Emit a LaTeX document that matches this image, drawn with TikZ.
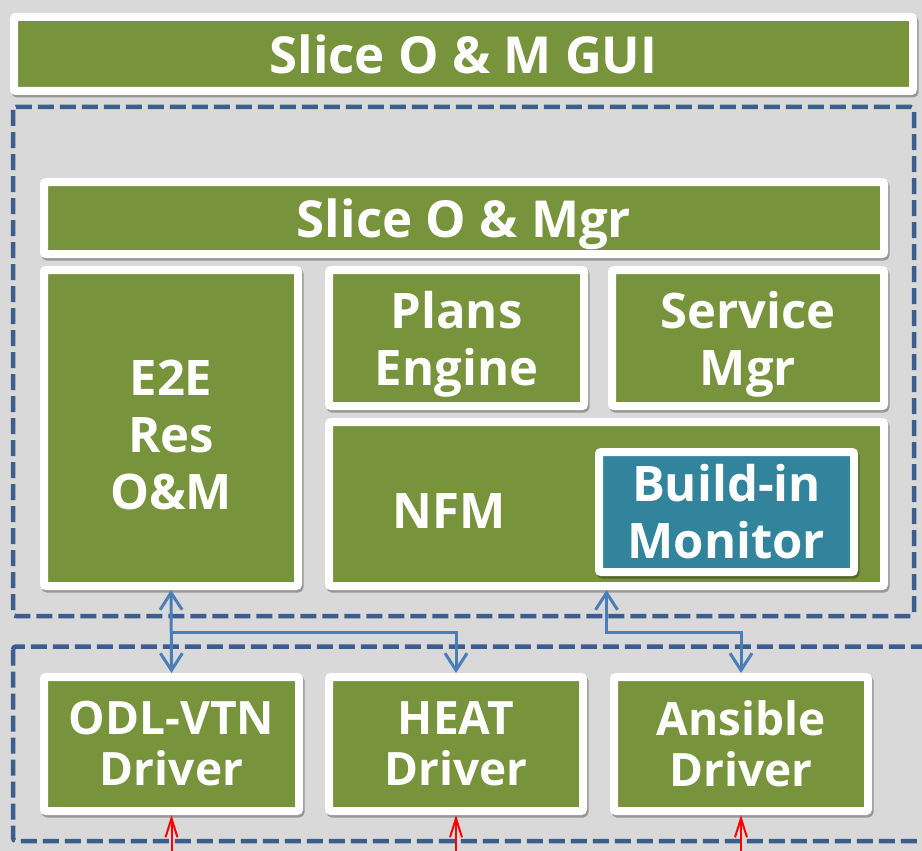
\documentclass[tikz,border=0pt]{standalone}
\usepackage{fontspec}
\setmainfont{Open Sans}
\usepackage{xcolor}
\usepackage{tikz}
\usetikzlibrary{positioning,shadows,arrows.meta}

\definecolor{olive}{HTML}{77933C}
\definecolor{teal}{HTML}{31849B}
\definecolor{canvas}{HTML}{D9D9D9}
\definecolor{frameblue}{HTML}{3B5E8C}
\definecolor{linkblue}{HTML}{4A7EBB}

\begin{document}
\begin{tikzpicture}[
    x=1pt, y=-1pt,
    blk/.style={draw=white, fill=olive, line width=8pt, rounded corners=2pt,
        text=white, align=center, inner sep=0pt,
        font=\bfseries\fontsize{49}{57}\selectfont,
        general shadow={shadow xshift=1.5pt, shadow yshift=-2.5pt,
            opacity=.3, fill=black, draw=black, line width=8pt}},
    wide/.style={blk, font=\bfseries\fontsize{51}{57}\selectfont},
    mon/.style={blk, fill=teal},
    drv/.style={blk, minimum width=254pt, minimum height=134pt,
        font=\bfseries\fontsize{46}{51}\selectfont},
    lbl/.style={text=white, inner sep=0pt, font=\bfseries\fontsize{49}{57}\selectfont},
    group/.style={draw=frameblue, line width=4.5pt, dash pattern=on 16pt off 6pt,
        rounded corners=3pt},
    link/.style={draw=linkblue, line width=3pt, >={Straight Barb[length=17pt,width=22pt]}},
    feed/.style={draw=red, line width=2pt, ->, >={Straight Barb[length=19pt,width=12pt]}},
]
    \fill[canvas] (0,0) rectangle (922,851);
    \useasboundingbox (0,0) rectangle (922,851);

    % Frames
    \draw[group] (13,107) rectangle (914,616);
    \draw[group] (13,646.5) rectangle (950,841);

    % GUI
    \node[wide, minimum width=899pt, minimum height=74pt] (gui) at (463.5,54) {Slice O \& M GUI};

    % Slice management
    \node[wide, minimum width=840pt, minimum height=72pt, text depth=0pt] (mgr) at (464,218) {Slice O \& Mgr};
    \node[blk, minimum width=254pt, minimum height=316pt] (e2e) at (171,428) {\rule{0pt}{50pt}E2E\\Res\\O\&M};
    \node[blk, minimum width=255pt, minimum height=136pt, text depth=0pt, right=23pt of e2e.north east, anchor=north west] (plans) {Plans\\Engine};
    \node[blk, minimum width=272pt, minimum height=136pt, text depth=0pt, right=20pt of plans] (svc) {Service\\Mgr};
    \node[blk, minimum width=555pt, minimum height=164pt, below=8pt of plans.south west, anchor=north west] (nfm) {};
    \node[lbl] (nfmlbl) at (449,511) {NFM};
    \node[mon, minimum width=255pt, minimum height=120pt] (monitor) at (726.5,512) {Build-in\\Monitor};

    % Drivers
    \node[drv, minimum width=255pt] (odl) at (171.5,744) {ODL-VTN\\Driver};
    \node[drv, right=22pt of odl] (heat) {HEAT\\Driver};
    \node[drv, right=23pt of heat] (ans) {Ansible\\Driver};

    % Connections
    \coordinate (split) at (0,632);
    \coordinate (bot) at (0,870);
    \draw[link, <->] (e2e.south) -- (odl.north);
    \draw[link, ->] (e2e.south |- split) -| (heat.north);
    \draw[link, <->] (nfm.south) |- (ans.north |- split) -- (ans.north);

    % Southbound
    \draw[feed] (odl.south |- bot) -- (odl.south);
    \draw[feed] (heat.south |- bot) -- (heat.south);
    \draw[feed] (ans.south |- bot) -- (ans.south);
\end{tikzpicture}
\end{document}
